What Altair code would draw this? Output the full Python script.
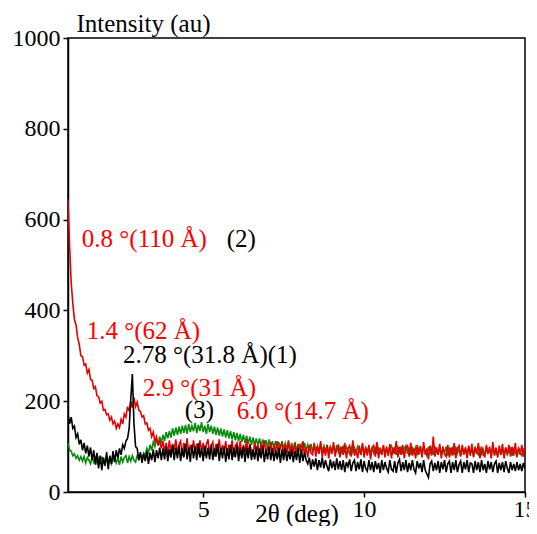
import altair as alt
import pandas as pd

# 2-theta grid: starts at 0.80 deg, step 0.05 deg, up to 15 deg
X_START = 0.80
X_STEP = 0.05

RED = [
    645, 540, 460, 415, 380, 368, 340, 325, 300,            # 0.80-1.20
    298, 280, 282, 262, 270, 248, 246, 228, 232, 212,       # 1.25
    210, 196, 200, 180, 182, 170, 172, 158, 165, 150,       # 1.75
    156, 140, 150, 142, 160, 150, 172, 165, 188, 178,       # 2.25
    200, 185, 208, 188, 198, 180, 178, 165, 168, 150,       # 2.75
    152, 136, 140, 122, 132, 112, 122, 102, 114, 96,        # 3.25
    112, 88, 108, 84, 114, 86, 106, 92, 116, 84,            # 3.75
    104, 112, 80, 108, 90, 118, 84, 104, 88, 114,           # 4.25
    86, 106, 82, 114, 90, 108, 80, 104, 116, 84,            # 4.75
    102, 110, 78, 106, 88, 116, 82, 104, 86, 112,           # 5.25
    80, 104, 90, 114, 78, 102, 108, 84, 112, 82,            # 5.75
    104, 88, 116, 80, 106, 90, 82, 110, 86, 104,            # 6.25
    78, 108, 90, 114, 82, 102, 86, 110, 80, 104,            # 6.75
    88, 112, 78, 102, 108, 82, 104, 86, 114, 80,            # 7.25
    102, 84, 108, 78, 100, 104, 80, 112, 84, 98,            # 7.75
    76, 104, 86, 82, 108, 78, 100, 84, 112, 76,             # 8.25
    98, 80, 104, 74, 100, 84, 110, 78, 96, 102,             # 8.75
    76, 100, 82, 108, 74, 96, 102, 78, 114, 80,             # 9.25
    94, 74, 102, 82, 108, 76, 98, 80, 104, 72,              # 9.75
    96, 102, 78, 110, 74, 98, 82, 104, 76, 100,             # 10.25
    80, 106, 74, 98, 84, 112, 76, 100, 82, 104,             # 10.75
    74, 98, 102, 78, 108, 80, 96, 74, 104, 82,              # 11.25
    100, 76, 110, 82, 96, 72, 102, 80, 122, 78,             # 11.75
    98, 82, 106, 74, 100, 84, 78, 104, 76, 98,              # 12.25
    80, 108, 74, 96, 102, 78, 104, 82, 98, 74,              # 12.75
    102, 80, 106, 76, 98, 84, 108, 74, 100, 82,             # 13.25
    78, 104, 84, 100, 74, 110, 80, 98, 76, 102,             # 13.75
    82, 106, 74, 98, 84, 104, 78, 100, 80, 108,             # 14.25
    76, 98, 82, 104, 78, 100,                               # 14.75-15.00
]

GREEN = [
    108, 92, 90, 80, 84, 74, 80, 70, 78,
    68, 78, 64, 76, 70, 62, 78, 66, 76, 64,
    74, 62, 78, 66, 60, 76, 64, 78, 62, 72,
    78, 64, 74, 60, 78, 66, 76, 80, 64, 78,
    68, 80, 70, 66, 80, 72, 82, 74, 86, 80,
    96, 86, 104, 92, 110, 100, 116, 104, 122, 108,
    126, 112, 132, 118, 134, 120, 140, 124, 142, 126,
    144, 128, 146, 130, 148, 128, 150, 132, 146, 134,
    152, 130, 148, 134, 154, 132, 146, 128, 150, 132,
    146, 128, 144, 126, 142, 124, 140, 122, 138, 120,
    136, 118, 134, 116, 132, 114, 130, 112, 128, 110,
    126, 108, 124, 106, 122, 104, 120, 104, 118, 102,
    118, 100, 116, 100, 114, 98, 116, 96, 112, 98,
    112, 96, 110, 94, 112, 94, 108, 96, 110, 92,
    108, 92, 110, 90, 106, 94, 104, 90, 108, 92,
    104, 90, 106, 88, 104, 90, 102, 88, 106, 90,
    102, 88, 104, 86, 100, 90, 102, 86, 104, 88,
    98, 88, 102, 86, 100, 92, 84, 100, 88, 98,
    86, 100, 90, 84, 102, 86, 98, 88, 100, 84,
    98, 86, 100, 84, 96, 88, 84, 100, 86, 96,
    84, 98, 102, 86, 96, 82, 98, 88, 100, 84,
    96, 102, 84, 98, 82, 100, 86, 98, 84, 96,
    100, 84, 98, 88, 80, 100, 86, 96, 82, 100,
    88, 84, 100, 82, 96, 86, 100, 80, 98, 84,
    96, 82, 100, 86, 94, 80, 98, 86, 96, 82,
    100, 84, 94, 80, 98, 88, 82, 96, 84, 94,
    80, 98, 86, 94, 82, 100, 84, 90, 80, 96,
    84, 92, 80, 98, 82, 90, 96, 80, 94, 86,
    82, 96, 86, 80, 94, 88,
]

BLACK = [
    172, 150, 165, 140, 145, 120, 128, 105, 115,
    92, 108, 85, 102, 78, 98, 70, 92, 60, 86,
    52, 80, 48, 76, 58, 88, 50, 80, 62, 90,
    66, 92, 74, 96, 82, 104, 96, 112, 118, 140,
    205, 260, 150, 100, 96, 70, 88, 64, 84, 68,
    90, 62, 86, 70, 94, 66, 92, 74, 98, 70,
    96, 72, 100, 68, 94, 76, 104, 70, 98, 74,
    102, 68, 96, 76, 106, 72, 98, 66, 104, 74,
    100, 70, 108, 76, 96, 68, 102, 74, 98, 72,
    104, 70, 96, 78, 106, 68, 98, 74, 100, 66,
    96, 72, 104, 70, 98, 76, 102, 68, 96, 74,
    100, 66, 98, 74, 104, 70, 94, 72, 100, 68,
    96, 74, 102, 66, 94, 72, 100, 70, 96, 68,
    92, 72, 98, 64, 94, 70, 96, 68, 90, 72,
    94, 66, 90, 70, 96, 64, 92, 68, 88, 70,
    62, 76, 50, 72, 56, 74, 48, 70, 54, 76,
    52, 70, 56, 46, 72, 52, 68, 48, 74, 50,
    68, 48, 70, 44, 66, 56, 72, 46, 64, 70,
    46, 66, 50, 72, 44, 68, 52, 46, 70, 48,
    66, 44, 68, 50, 64, 42, 70, 48, 66, 52,
    44, 70, 50, 46, 68, 42, 64, 72, 46, 66,
    48, 70, 44, 64, 48, 70, 50, 42, 68, 52,
    64, 44, 70, 48, 40, 32, 62, 68, 46, 64,
    48, 68, 42, 66, 50, 70, 44, 62, 68, 42,
    66, 48, 70, 44, 60, 68, 42, 66, 50, 70,
    44, 64, 62, 42, 68, 48, 66, 44, 70, 48,
    62, 42, 68, 50, 66, 44, 62, 68, 42, 64,
    48, 66, 44, 68, 52, 42, 66, 48, 62, 46,
    66, 48, 62, 46, 64, 50,
]

SERIES_NAMES = ["(3)", "(2)", "(1)"]
SERIES_COLORS = ["#0a8a0a", "#e60000", "#000000"]

ANN_TEXT = ["0.8 °(110 Å)", "(2)", "1.4 °(62 Å)", "2.78 °(31.8 Å)(1)",
            "2.9 °(31 Å)", "(3)", "6.0 °(14.7 Å)"]
ANN_X = [1.23, 5.73, 1.38, 2.51, 3.12, 4.43, 6.04]
ANN_Y = [557, 557, 355, 302, 230, 181, 178]
ANN_COLOR = ["#ff0000", "#000000", "#ff0000", "#000000",
             "#ff0000", "#000000", "#ff0000"]

Y_TICKS = [0, 200, 400, 600, 800, 1000]
X_TICKS = [5, 10, 15]

FONT = "Liberation Serif"

rows = []
for name, vals in zip(SERIES_NAMES, [GREEN, RED, BLACK]):
    for i, v in enumerate(vals):
        rows.append({"s": name, "x": round(X_START + X_STEP * i, 4), "y": v})
df = pd.DataFrame(rows)

ann = pd.DataFrame({"t": ANN_TEXT, "x": ANN_X, "y": ANN_Y, "c": ANN_COLOR})

xscale = alt.Scale(domain=[0.8, 15], nice=False, zero=False)
yscale = alt.Scale(domain=[0, 1000], nice=False)

xaxis = alt.Axis(values=X_TICKS, title="2θ (deg)", grid=False, format="d",
                 labelFont=FONT, labelFontSize=24, labelColor="black",
                 tickSize=5, tickColor="black", tickWidth=1.5,
                 domainColor="black", domainWidth=1.5, labelPadding=0,
                 titleFont=FONT, titleFontSize=25, titleFontWeight="normal",
                 titleColor="black", titleBaseline="alphabetic", titleY=29,
                 labelFlush=False)
yaxis = alt.Axis(values=Y_TICKS, title="Intensity (au)", grid=False, format="d",
                 labelFont=FONT, labelFontSize=24, labelColor="black",
                 tickSize=5, tickColor="black", tickWidth=1.5,
                 domainColor="black", domainWidth=1.5, labelPadding=3,
                 titleFont=FONT, titleFontSize=25, titleFontWeight="normal",
                 titleColor="black", titleAngle=0, titleAlign="left",
                 titleBaseline="alphabetic", titleX=8, titleY=-7,
                 labelFlush=False)

lines = alt.Chart(df).mark_line(strokeWidth=1.6, clip=True).encode(
    x=alt.X("x:Q", scale=xscale, axis=xaxis),
    y=alt.Y("y:Q", scale=yscale, axis=yaxis),
    color=alt.Color("s:N", scale=alt.Scale(domain=SERIES_NAMES, range=SERIES_COLORS),
                    legend=None),
    order=alt.Order("x:Q"),
    detail="s:N",
)

texts = alt.Chart(ann).mark_text(font=FONT, fontSize=25, align="left",
                                 baseline="middle").encode(
    x=alt.X("x:Q", scale=xscale),
    y=alt.Y("y:Q", scale=yscale),
    text="t:N",
    color=alt.Color("c:N", scale=None),
)

chart = alt.layer(lines, texts).properties(
    width=457, height=454,
    autosize=alt.AutoSizeParams(type="none"),
    padding={"left": 60, "top": 30, "right": 4, "bottom": 34},
).configure(background="white", font=FONT).configure_view(
    stroke="black", strokeWidth=1.5)

chart.save("out.html", embed_options={"renderer": "svg", "actions": False})
